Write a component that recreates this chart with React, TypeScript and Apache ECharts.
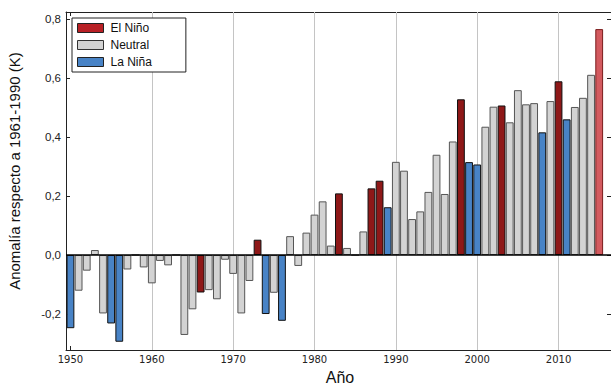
import React, { useEffect, useRef } from 'react';
import * as echarts from 'echarts';

const years = [
  1950, 1951, 1952, 1953, 1954, 1955, 1956, 1957, 1958, 1959,
  1960, 1961, 1962, 1963, 1964, 1965, 1966, 1967, 1968, 1969,
  1970, 1971, 1972, 1973, 1974, 1975, 1976, 1977, 1978, 1979,
  1980, 1981, 1982, 1983, 1984, 1985, 1986, 1987, 1988, 1989,
  1990, 1991, 1992, 1993, 1994, 1995, 1996, 1997, 1998, 1999,
  2000, 2001, 2002, 2003, 2004, 2005, 2006, 2007, 2008, 2009,
  2010, 2011, 2012, 2013, 2014, 2015,
];

const anomalies = [
  -0.248, -0.121, -0.053, 0.017, -0.198, -0.232, -0.294, -0.049, 0.0, -0.042,
  -0.096, -0.02, -0.035, 0.0, -0.271, -0.184, -0.127, -0.119, -0.15, -0.016,
  -0.064, -0.198, -0.088, 0.052, -0.2, -0.128, -0.223, 0.064, -0.037, 0.076,
  0.137, 0.182, 0.032, 0.209, 0.024, 0.0, 0.08, 0.226, 0.252, 0.162,
  0.316, 0.286, 0.122, 0.148, 0.214, 0.34, 0.207, 0.385, 0.528, 0.315,
  0.307, 0.435, 0.503, 0.507, 0.45, 0.559, 0.511, 0.515, 0.416, 0.522,
  0.589, 0.46, 0.502, 0.533, 0.611, 0.766,
];

// E = El Niño, N = Neutral, L = La Niña
const phases = [
  'L', 'N', 'N', 'N', 'N', 'L', 'L', 'N', 'N', 'N',
  'N', 'N', 'N', 'N', 'N', 'N', 'E', 'N', 'N', 'N',
  'N', 'N', 'N', 'E', 'L', 'N', 'L', 'N', 'N', 'N',
  'N', 'N', 'N', 'E', 'N', 'N', 'N', 'E', 'E', 'L',
  'N', 'N', 'N', 'N', 'N', 'N', 'N', 'N', 'E', 'L',
  'L', 'N', 'N', 'E', 'N', 'N', 'N', 'N', 'L', 'N',
  'E', 'L', 'N', 'N', 'N', 'E',
];

const highlightYear = 2015;
const legendNames = ['El Niño', 'Neutral', 'La Niña'];
const xTickYears = [1950, 1960, 1970, 1980, 1990, 2000, 2010];
const gridYears = [1960, 1970, 1980, 1990, 2000, 2010];
const yTickValues = [-0.2, 0.0, 0.2, 0.4, 0.6, 0.8];
const yTitle = 'Anomalía respecto a 1961-1990 (K)';
const xTitle = 'Año';

const pick = (p: string) =>
  years
    .map((y, i) => ({ y, v: anomalies[i], p: phases[i] }))
    .filter((d) => d.p === p)
    .map((d) =>
      d.y === highlightYear
        ? { value: [d.y, d.v], itemStyle: { color: '#d35a5f', borderColor: '#7a1c1c' } }
        : { value: [d.y, d.v] }
    );

const X_MIN = 1949.45;
const X_MAX = 2016.45;
const Y_MIN = -0.322;
const Y_MAX = 0.824;
const AXIS_COLOR = '#222';
const SANS = 'Liberation Sans, Arial, sans-serif';

export default function App() {
  const ref = useRef<HTMLDivElement>(null);
  useEffect(() => {
    if (!ref.current) return;
    const chart = echarts.init(ref.current, undefined, { renderer: 'svg' });
    const barCommon = {
      type: 'bar' as const,
      barWidth: 7.8,
      barMaxWidth: 20,
      barGap: '-100%',
      xAxisIndex: 0,
      yAxisIndex: 0,
    };
    const xAxisBase = {
      type: 'value' as const,
      min: X_MIN,
      max: X_MAX,
      axisLine: { show: true, onZero: false, lineStyle: { color: AXIS_COLOR, width: 1 } },
      axisTick: { show: true, inside: true, length: 4, customValues: xTickYears, lineStyle: { color: AXIS_COLOR } },
      splitLine: { show: false },
    };
    const yAxisBase = {
      type: 'value' as const,
      min: Y_MIN,
      max: Y_MAX,
      axisLine: { show: true, onZero: false, lineStyle: { color: AXIS_COLOR, width: 1 } },
      axisTick: { show: true, inside: true, length: 4, customValues: yTickValues, lineStyle: { color: AXIS_COLOR } },
      splitLine: { show: false },
    };
    chart.setOption({
      animation: false,
      grid: { left: 66, right: -1, top: 12, bottom: 35 },
      legend: {
        orient: 'vertical',
        left: 72,
        top: 18,
        data: [
          { name: legendNames[0], itemStyle: { color: '#b82025', borderColor: '#222', borderWidth: 1 } },
          { name: legendNames[1], itemStyle: { color: '#d3d3d3', borderColor: '#333', borderWidth: 1 } },
          { name: legendNames[2], itemStyle: { color: '#4883c6', borderColor: '#222', borderWidth: 1 } },
        ],
        icon: 'rect',
        itemWidth: 26,
        itemHeight: 9,
        itemGap: 5,
        padding: [4, 34, 4, 5],
        borderColor: '#222',
        borderWidth: 1,
        borderRadius: 0,
        backgroundColor: '#fff',
        selectedMode: false,
        textStyle: { fontFamily: SANS, fontSize: 12, color: '#111', padding: [0, 0, 0, 2] },
      },
      xAxis: [
        {
          ...xAxisBase,
          position: 'bottom',
          axisLabel: {
            show: true,
            customValues: xTickYears,
            formatter: (v: number) => String(Math.round(v)),
            margin: 4,
            fontFamily: 'DejaVu Sans',
            fontSize: 10,
            color: '#222',
          },
        },
        {
          ...xAxisBase,
          position: 'top',
          axisLabel: { show: false },
        },
      ],
      yAxis: [
        {
          ...yAxisBase,
          position: 'left',
          axisLabel: {
            show: true,
            customValues: yTickValues,
            formatter: (v: number) => v.toFixed(1).replace('.', ','),
            margin: 5,
            fontFamily: SANS,
            fontSize: 11.5,
            color: '#222',
          },
        },
        {
          ...yAxisBase,
          position: 'right',
          axisLabel: { show: false },
        },
      ],
      series: [
        {
          ...barCommon,
          name: legendNames[0],
          itemStyle: { color: '#8e1818', borderColor: '#111', borderWidth: 1 },
          data: pick('E'),
          markLine: {
            silent: true,
            symbol: 'none',
            z: 1,
            label: { show: false },
            lineStyle: { color: '#c4c4c4', width: 1, type: 'solid' },
            data: gridYears.map((g) => ({ xAxis: g })),
          },
        },
        {
          ...barCommon,
          name: legendNames[1],
          itemStyle: { color: '#d3d3d3', borderColor: '#555', borderWidth: 1 },
          data: pick('N'),
          markLine: {
            silent: true,
            symbol: 'none',
            z: 5,
            label: { show: false },
            lineStyle: { color: '#000', width: 1.6, type: 'solid' },
            data: [{ yAxis: 0 }],
          },
        },
        {
          ...barCommon,
          name: legendNames[2],
          itemStyle: { color: '#4883c6', borderColor: '#111', borderWidth: 1 },
          data: pick('L'),
        },
      ],
      graphic: [
        {
          type: 'text',
          x: 14,
          y: 171,
          rotation: Math.PI / 2,
          style: {
            text: yTitle,
            fontFamily: SANS,
            fontSize: 15,
            fill: '#111',
            align: 'center',
            verticalAlign: 'middle',
          },
        },
        {
          type: 'text',
          x: 340,
          y: 377,
          style: {
            text: xTitle,
            fontFamily: SANS,
            fontSize: 16,
            fill: '#111',
            align: 'center',
            verticalAlign: 'middle',
          },
        },
      ],
    });
    return () => chart.dispose();
  }, []);
  return (
    <div
      ref={ref}
      style={{ position: 'absolute', left: 0, top: 0, width: 611, height: 385, background: '#fff' }}
    />
  );
}
